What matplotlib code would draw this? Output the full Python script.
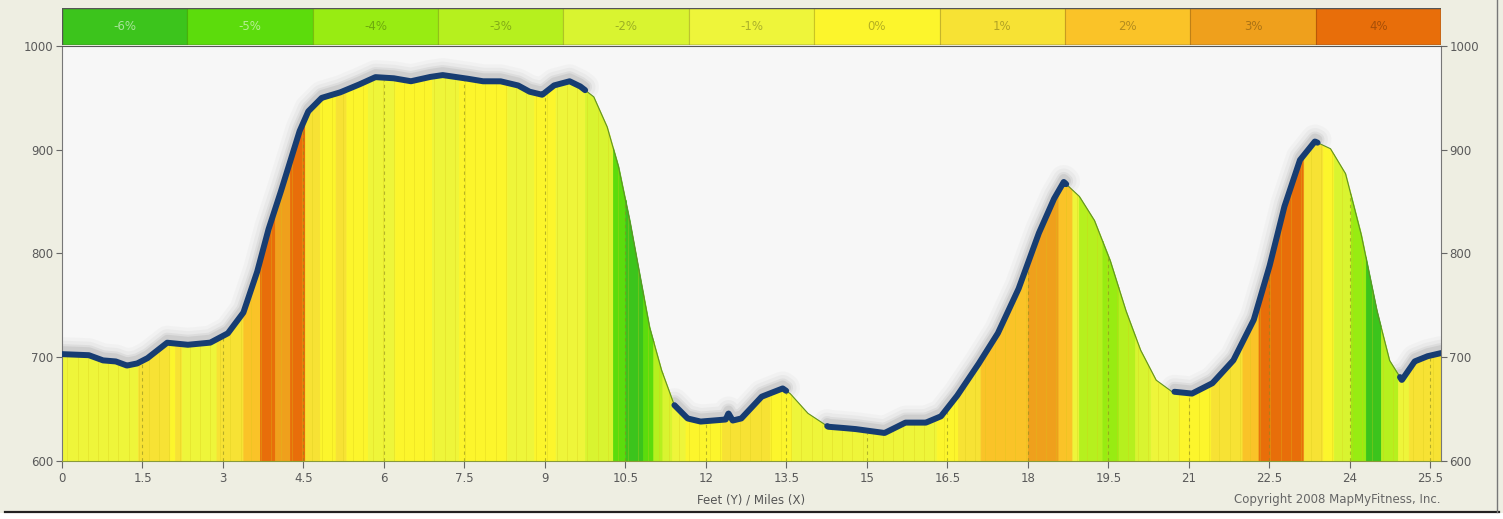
import numpy as np
import matplotlib
matplotlib.use("Agg")
import matplotlib.pyplot as plt
from matplotlib.ticker import MultipleLocator, FuncFormatter
from matplotlib.patches import Rectangle
from matplotlib.lines import Line2D
from matplotlib.colors import to_rgb

# elevation profile (miles, feet)
miles = [0, 0.5, 0.76, 1.0, 1.21, 1.4, 1.59, 1.96, 2.34, 2.76, 3.09, 3.38, 3.63, 3.84,
         4.05, 4.26, 4.42, 4.59, 4.84, 5.17, 5.5, 5.84, 6.17, 6.5, 6.84, 7.09, 7.5, 7.84,
         8.17, 8.5, 8.71, 8.95, 9.17, 9.46, 9.66, 9.91, 10.16, 10.37, 10.58, 10.74, 10.95,
         11.17, 11.41, 11.66, 11.9, 12.37, 12.42, 12.5, 12.66, 13.04, 13.43, 13.57, 13.9,
         14.28, 14.76, 15.33, 15.72, 16.1, 16.38, 16.67, 17.05, 17.44, 17.82, 18.2, 18.48,
         18.67, 18.96, 19.24, 19.53, 19.82, 20.1, 20.39, 20.68, 21.06, 21.44, 21.83, 22.21,
         22.5, 22.78, 23.07, 23.35, 23.64, 23.92, 24.21, 24.5, 24.74, 24.97, 25.21, 25.45, 25.7]
elev = [703, 702, 697, 696, 692, 694, 699, 714, 712, 714, 723, 743, 781, 822,
        855, 890, 917, 937, 950, 955, 962, 970, 969, 966, 970, 972, 969, 966,
        966, 962, 956, 953, 962, 966, 961, 951, 922, 884, 832, 787, 729,
        688, 654, 641, 638, 640, 646, 639, 641, 662, 670, 665, 646,
        633, 631, 627, 637, 637, 643, 662, 691, 723, 765, 819, 852,
        869, 855, 832, 794, 746, 707, 678, 667, 665, 675, 697, 736,
        787, 845, 890, 908, 901, 877, 819, 746, 697, 678, 696, 701, 704]

# grade bands (start mile, grade %)
band_start = [0.0, 1.42, 2.01, 2.11, 2.23, 2.88, 3.38, 3.69, 3.97, 4.25, 4.53, 4.81, 5.10,
              5.30, 5.70, 6.20, 6.90, 7.40, 8.30, 8.80, 9.20, 9.75, 10.27, 10.50, 10.83,
              11.02, 11.19, 11.37, 11.62, 12.30, 13.20, 13.60, 16.30, 16.70, 17.12, 18.00,
              18.57, 18.83, 18.95, 19.39, 19.69, 20.00, 20.29, 20.81, 21.41, 22.00, 22.30,
              23.14, 23.50, 23.70, 24.02, 24.30, 24.58, 24.90, 25.10]
band_grade = [-1, 1, 0, 1, -1, 1, 2, 4, 3, 4, 1, 0, 1,
              0, -1, 0, -1, 0, -1, 0, -1, -2, -5, -6, -5,
              -3, -2, -1, 0, 1, 0, -1, 0, 1, 2, 3,
              2, -1, -3, -4, -3, -2, -1, 0, 1, 2, 4,
              1, 0, -2, -4, -6, -3, -1, 1]

# stretches where the climb line is drawn
climb_ranges = [(0, 9.75), (11.41, 13.5), (14.26, 18.72), (20.73, 23.4), (24.93, 25.7)]

legend_grades = [-6, -5, -4, -3, -2, -1, 0, 1, 2, 3, 4]
legend_labels = ["-6%", "-5%", "-4%", "-3%", "-2%", "-1%", "0%", "1%", "2%", "3%", "4%"]
legend_colors = ['#3cc41c', '#5cdc0c', '#98ec12', '#b6f01e', '#d9f430', '#eef53a',
                 '#fcf52c', '#f7e234', '#fac328', '#efa01c', '#e86e0a']
grade_color = dict(zip(legend_grades, legend_colors))

W, H = 1503, 519
fig = plt.figure(figsize=(W / 100, H / 100), dpi=100)
fig.patch.set_facecolor('#eeeee2')

# white strip under the frame + frame lines
fig.add_artist(Rectangle((0, 0), 1, 1 - 513 / H, transform=fig.transFigure,
                         facecolor='white', edgecolor='none'))
fig.add_artist(Line2D([5 / W, 1499 / W], [1 - 512 / H] * 2, color='#222222', lw=1.6))
fig.add_artist(Line2D([1497 / W] * 2, [1 - 512 / H, 1], color='#777777', lw=1.0))

x0, x1, ytop, ybot = 62, 1441, 46, 461
ax = fig.add_axes([x0 / W, 1 - ybot / H, (x1 - x0) / W, (ybot - ytop) / H])
ax.set_facecolor('#f7f7f7')

xmax = miles[-1]
xf = np.linspace(0, xmax, 4000)
yf = np.interp(xf, miles, elev)

# glow under the climb line
for a, b in climb_ranges:
    m = (xf >= a) & (xf <= b)
    for lw, al in [(20, 0.04), (15, 0.06), (10, 0.10), (7, 0.14)]:
        ax.plot(xf[m], yf[m] + 3, color='#777777', lw=lw, alpha=al,
                solid_capstyle='round', zorder=1.5)

# coloured grade bands
ends = band_start[1:] + [xmax]
for a, b, g in zip(band_start, ends, band_grade):
    inner = xf[(xf > a) & (xf < b)]
    xs = np.concatenate([[a], inner, [b]])
    ys = np.interp(xs, miles, elev)
    c = grade_color[g]
    ax.fill_between(xs, 600, ys, color=c, edgecolor=c, lw=0.6, zorder=2)

# faint stripes and dashed grid inside the fill
for xs in np.arange(0.1, xmax, 0.19):
    ax.vlines(xs, 600, np.interp(xs, miles, elev) - 1, color='#d6c81a', lw=0.7,
              alpha=0.3, zorder=2.5)
for xs in np.arange(1.5, xmax, 1.5):
    ax.vlines(xs, 600, np.interp(xs, miles, elev) - 2, color='#8c8a20', lw=0.8,
              alpha=0.6, linestyles=(0, (3, 3)), zorder=2.6)

ax.plot(xf, yf, color='#5f8f28', lw=0.8, zorder=3)

for a, b in climb_ranges:
    m = (xf >= a) & (xf <= b)
    ax.plot(xf[m], yf[m], color='#173d72', lw=4.3, solid_capstyle='round', zorder=5)

ax.set_xlim(0, xmax)
ax.set_ylim(600, 1000)
ax.xaxis.set_major_locator(MultipleLocator(1.5))
ax.xaxis.set_major_formatter(FuncFormatter(lambda v, p: f"{v:g}"))
ax.yaxis.set_major_locator(MultipleLocator(100))
ax.tick_params(axis='both', colors='#666666', labelcolor='#5a5a5a', labelsize=8.5,
               direction='out', width=0.8)
ax.tick_params(axis='y', length=4, pad=2)
ax.tick_params(axis='x', length=5, pad=3)
for s in ['left', 'right']:
    ax.spines[s].set_color('#777777')
ax.spines['bottom'].set_color('#8a9a3a')
ax.spines['top'].set_color('#555555')

ax2 = ax.twinx()
ax2.set_ylim(600, 1000)
ax2.yaxis.set_major_locator(MultipleLocator(100))
ax2.tick_params(axis='y', colors='#666666', labelcolor='#5a5a5a', labelsize=8.5,
                direction='out', length=4, pad=2, width=0.8)
for s in ax2.spines.values():
    s.set_visible(False)

ax.set_xlabel("Feet (Y) / Miles (X)", fontsize=8.5, color='#555555', labelpad=6)
fig.text(x1 / W, 1 - 500 / H, "Copyright 2008 MapMyFitness, Inc.", fontsize=8.5,
         color='#666666', ha='right', va='center')

# grade legend bar
lax = fig.add_axes([x0 / W, 1 - 45 / H, (x1 - x0) / W, 37 / H])
lax.set_xlim(0, len(legend_labels))
lax.set_ylim(0, 1)
lax.axis('off')
for i, (lab, c) in enumerate(zip(legend_labels, legend_colors)):
    rgb = np.array(to_rgb(c))
    edge = rgb * 0.8
    lax.add_patch(Rectangle((i, 0), 1, 1, facecolor=c, edgecolor=edge, lw=0.8))
    if i < 2:
        tc = rgb * 0.45 + 0.55
    else:
        tc = rgb * 0.72
    lax.text(i + 0.5, 0.5, lab, ha='center', va='center', fontsize=8.5, color=tc)
lax.add_patch(Rectangle((0, 0), len(legend_labels), 1, fill=False,
                        edgecolor='#555555', lw=1.0))

fig.savefig("out.png", dpi=100, facecolor=fig.get_facecolor())
